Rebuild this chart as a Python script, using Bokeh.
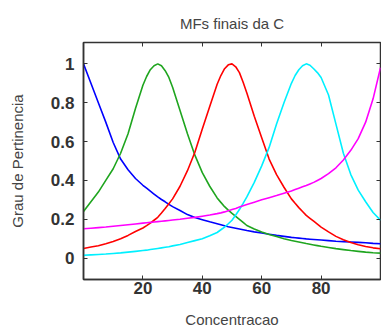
from bokeh.plotting import figure
from bokeh.models import FixedTicker, LinearAxis, Range1d
from bokeh.embed import file_html
from bokeh.resources import INLINE

x = [0, 2.5, 5, 7.5, 10, 12.5, 15, 17.5, 20, 21.25, 22.5, 23.75, 25, 26.25, 27.5, 28.75,
     30, 32.5, 35, 37.5, 40, 42.5, 45, 46.25, 47.5, 48.75, 50, 51.25, 52.5, 53.75, 55,
     57.5, 60, 62.5, 65, 67.5, 70, 71.25, 72.5, 73.75, 75, 76.25, 77.5, 78.75, 80, 82.5,
     85, 87.5, 90, 92.5, 95, 97.5, 100]

mf1_blue = [1.0, 0.90, 0.80, 0.70, 0.595, 0.51, 0.455, 0.41, 0.375, 0.36, 0.345, 0.33,
            0.315, 0.302, 0.29, 0.277, 0.265, 0.245, 0.224, 0.209, 0.198, 0.187, 0.177,
            0.172, 0.167, 0.162, 0.158, 0.154, 0.15, 0.146, 0.142, 0.135, 0.129, 0.123,
            0.117, 0.112, 0.107, 0.105, 0.103, 0.101, 0.099, 0.0975, 0.096, 0.0945, 0.093,
            0.09, 0.087, 0.085, 0.083, 0.081, 0.079, 0.076, 0.074]
mf2_green = [0.24, 0.29, 0.34, 0.40, 0.46, 0.54, 0.64, 0.77, 0.89, 0.935, 0.97, 0.99, 1.0,
             0.99, 0.965, 0.93, 0.88, 0.76, 0.64, 0.53, 0.44, 0.37, 0.31, 0.287, 0.265,
             0.247, 0.23, 0.215, 0.20, 0.184, 0.168, 0.15, 0.135, 0.122, 0.111, 0.10,
             0.091, 0.087, 0.083, 0.079, 0.075, 0.0715, 0.068, 0.0645, 0.061, 0.055,
             0.049, 0.044, 0.039, 0.035, 0.031, 0.028, 0.026]
mf3_red = [0.05, 0.057, 0.064, 0.074, 0.086, 0.10, 0.117, 0.137, 0.155, 0.167, 0.18, 0.195,
           0.21, 0.232, 0.255, 0.28, 0.305, 0.37, 0.45, 0.545, 0.665, 0.78, 0.895, 0.94,
           0.975, 0.995, 1.0, 0.985, 0.955, 0.905, 0.85, 0.73, 0.62, 0.51, 0.43, 0.365,
           0.305, 0.282, 0.26, 0.24, 0.22, 0.205, 0.19, 0.175, 0.16, 0.135, 0.112, 0.095,
           0.08, 0.069, 0.06, 0.053, 0.048]
mf4_cyan = [0.015, 0.017, 0.019, 0.021, 0.024, 0.027, 0.031, 0.035, 0.039, 0.041, 0.044,
            0.047, 0.05, 0.053, 0.056, 0.059, 0.063, 0.07, 0.08, 0.09, 0.10, 0.115, 0.132,
            0.146, 0.16, 0.177, 0.195, 0.222, 0.25, 0.282, 0.315, 0.39, 0.475, 0.57, 0.69,
            0.80, 0.90, 0.94, 0.97, 0.99, 1.0, 0.993, 0.975, 0.955, 0.93, 0.84, 0.69, 0.54,
            0.43, 0.35, 0.29, 0.235, 0.195]
mf5_magenta = [0.151, 0.154, 0.157, 0.16, 0.164, 0.168, 0.172, 0.176, 0.18, 0.182, 0.184,
               0.186, 0.188, 0.19, 0.192, 0.194, 0.196, 0.2, 0.205, 0.21, 0.216, 0.222,
               0.229, 0.233, 0.238, 0.244, 0.25, 0.256, 0.263, 0.27, 0.276, 0.288, 0.30,
               0.311, 0.322, 0.334, 0.346, 0.353, 0.36, 0.367, 0.374, 0.382, 0.39, 0.40,
               0.41, 0.435, 0.465, 0.505, 0.555, 0.615, 0.70, 0.82, 0.98]

x_ticks = [20, 40, 60, 80]
y_ticks = [0, 0.2, 0.4, 0.6, 0.8, 1]
y_tick_labels = {0: "0", 0.2: "0.2", 0.4: "0.4", 0.6: "0.6", 0.8: "0.8", 1: "1"}

title_text = "MFs finais da C"
x_label = "Concentracao"
y_label = "Grau de Pertinencia"

FONT = "Liberation Sans"
FRAME = "#333333"

p = figure(width=381, height=331, output_backend="svg", toolbar_location=None,
           x_range=Range1d(0, 100), y_range=Range1d(-0.11, 1.11),
           min_border_left=83, min_border_right=1, min_border_top=42,
           min_border_bottom=52)
p.background_fill_color = "white"
p.border_fill_color = "white"
p.outline_line_color = FRAME
p.outline_line_width = 1.5
p.grid.visible = False

p.title.text = title_text
p.title.align = "center"
p.title.text_font = FONT
p.title.text_font_size = "15px"
p.title.text_font_style = "normal"
p.title.text_color = "#444444"
p.title.standoff = 22

for ax in (p.xaxis[0], p.yaxis[0]):
    ax.axis_line_color = FRAME
    ax.axis_line_width = 1.5
    ax.major_tick_in = 4
    ax.major_tick_out = 0
    ax.major_tick_line_color = FRAME
    ax.minor_tick_line_color = None
    ax.major_label_text_font = FONT
    ax.major_label_text_font_size = "17px"
    ax.major_label_text_font_style = "bold"
    ax.major_label_text_color = "#333333"
    ax.axis_label_text_font = FONT
    ax.axis_label_text_font_size = "15px"
    ax.axis_label_text_font_style = "normal"
    ax.axis_label_text_color = "#444444"

p.xaxis[0].ticker = FixedTicker(ticks=x_ticks)
p.yaxis[0].ticker = FixedTicker(ticks=y_ticks)
p.yaxis[0].major_label_overrides = y_tick_labels
p.xaxis[0].axis_label = x_label
p.yaxis[0].axis_label = y_label
p.xaxis[0].major_label_standoff = 2
p.xaxis[0].axis_label_standoff = 14
p.yaxis[0].major_label_standoff = 9
p.yaxis[0].axis_label_standoff = 22

# mirrored ticks on top and right (box), no labels
top = LinearAxis(ticker=FixedTicker(ticks=x_ticks))
right = LinearAxis(ticker=FixedTicker(ticks=y_ticks))
for ax in (top, right):
    ax.axis_line_color = None
    ax.major_tick_in = 4
    ax.major_tick_out = 0
    ax.major_tick_line_color = FRAME
    ax.minor_tick_line_color = None
    ax.major_label_text_color = None
    ax.major_label_text_font_size = "0px"
    ax.major_label_standoff = 0
p.add_layout(top, "above")
p.add_layout(right, "right")

lw = 1.6
p.line(x, mf1_blue, line_color="#0000ff", line_width=lw)
p.line(x, mf2_green, line_color="#1fa51f", line_width=lw)
p.line(x, mf3_red, line_color="#ff0000", line_width=lw)
p.line(x, mf4_cyan, line_color="#00f0ff", line_width=lw)
p.line(x, mf5_magenta, line_color="#ff00ff", line_width=lw)

open("out.html", "w").write(file_html(p, INLINE))
